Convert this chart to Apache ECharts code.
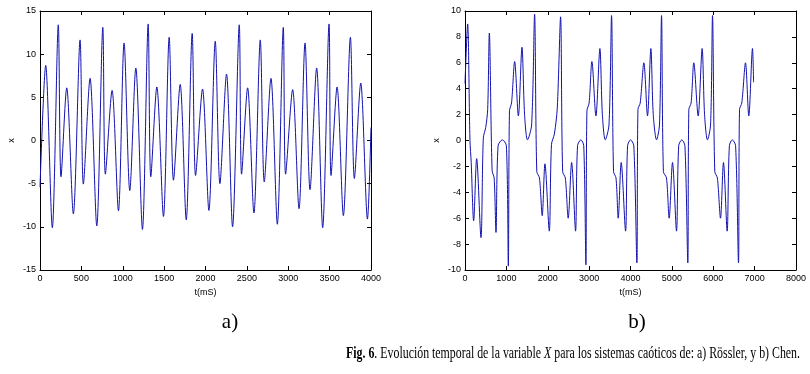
<!DOCTYPE html>
<html><head><meta charset="utf-8">
<script src="https://cdn.jsdelivr.net/npm/echarts@6/dist/echarts.min.js"></script>
<style>html,body{margin:0;padding:0;background:#fff}#c{width:810px;height:374px}</style>
</head><body><div id="c"></div>
<script>
// ---- data ----
const roesslerT = [0,69,149,221,254,323,403,484,524,605,686,759,790,871,948,1016,1085,1158,1238,1307,1339,1412,1492,1561,1613,1694,1767,1839,1880,1964,2041,2118,2174,2254,2327,2408,2436,2509,2585,2662,2710,2791,2868,2940,2968,3053,3130,3203,3263,3343,3416,3493,3517,3590,3666,3751,3799,3876,3957,4000];
const roesslerX = [-5.4,8.7,-10.1,13.4,-4.2,6.1,-8.5,11.65,-5.05,7.2,-9.9,13.1,-3.9,5.8,-8.15,11.3,-5.8,8.4,-10.3,13.5,-4.2,6.2,-8.8,11.96,-4.6,6.5,-9.2,12.4,-4.05,5.96,-8.1,11.5,-5.0,7.7,-10.0,13.4,-3.9,6.1,-8.4,11.65,-4.8,7.2,-9.7,13.1,-3.9,5.9,-7.9,11.3,-5.7,8.4,-10.1,13.5,-4.05,6.2,-8.7,11.96,-4.4,6.65,-9.1,1.5];

const chenT = [0,64,120,150,209,282,386,443,500,548,588,655,705,749,800,903,1000,1047,
  1075,1125,1200,1290,1377,1440,1510,1610,1682,
  1735,1800,1866,1932,2037,2090,2160,2230,2310,
  2360,2425,2494,2577,2672,2720,2800,2870,2922,
  2947,3000,3067,3164,3260,3320,3390,3480,3542,
  3590,3650,3703,3775,3881,3930,4001,4080,4154,
  4180,4235,4323,4411,4492,4550,4630,4700,4750,
  4795,4870,4934,5015,5112,5165,5240,5315,5385,
  5410,5465,5530,5635,5731,5790,5860,5935,5982,
  6037,6100,6175,6247,6336,6390,6460,6540,6610,
  6635,6690,6779,6859,6948,6975];
const chenX = [4.4,9.0,0.0,-1.7,-6.2,-1.4,-7.5,0.2,1.0,2.4,8.3,-2.3,-2.9,-7.1,-0.4,0.05,-0.4,-9.7,
  2.3,2.9,6.1,1.9,7.2,2.0,0.05,1.2,9.75,
  -2.4,-2.9,-5.8,-1.8,-7.0,-0.3,0.5,2.5,9.55,
  -2.4,-2.9,-6.0,-1.7,-7.0,-0.4,0.05,-0.4,-9.6,
  2.3,2.9,6.1,1.9,7.1,2.0,0.05,1.2,9.65,
  -2.4,-2.9,-6.0,-1.7,-7.0,-0.4,0.05,-0.4,-9.45,
  2.4,2.9,6.0,1.9,7.1,2.0,0.05,1.2,9.65,
  -2.4,-2.9,-6.0,-1.7,-7.0,-0.4,0.05,-0.4,-9.45,
  2.4,2.9,6.0,1.9,7.1,2.0,0.05,1.2,9.65,
  -2.4,-2.9,-6.0,-1.7,-7.0,-0.4,0.05,-0.4,-9.45,
  2.4,2.9,6.0,1.9,7.1,4.5];

const axisA = {xMax: 4000, xStep: 500, yMin: -15, yMax: 15, yStep: 5};
const axisB = {xMax: 8000, xStep: 1000, yMin: -10, yMax: 10, yStep: 2};
const yName = 'x';
const xName = 't(mS)';
const panelLabels = ['a)', 'b)'];
const capBold = 'Fig. 6';
const capPart1 = '. Evolución temporal de la variable ';
const capItalic = 'X';
const capPart2 = ' para los sistemas caóticos de: a) Rössler, y b) Chen.';

// ---- chart ----
const sans = '"Liberation Sans", Arial, sans-serif';
const serif = '"Liberation Serif", "Times New Roman", serif';
const lineColor = '#1212b0';
const grids = [
  {left: 40, top: 11, width: 331, height: 259},
  {left: 465, top: 11, width: 331, height: 259}
];
const plain = v => String(v);
function xAxes(g, ax) {
  const base = {type: 'value', gridIndex: g, min: 0, max: ax.xMax, interval: ax.xStep,
    splitLine: {show: false},
    axisLine: {show: true, onZero: false, lineStyle: {color: '#000', width: 1}},
    axisTick: {show: true, inside: true, length: 4, lineStyle: {color: '#000'}}};
  return [
    Object.assign({}, base, {position: 'bottom', name: xName, nameLocation: 'middle', nameGap: 17,
      nameTextStyle: {fontFamily: sans, fontSize: 9, color: '#000'},
      axisLabel: {show: true, margin: 4, fontFamily: sans, fontSize: 9, color: '#000', formatter: plain}}),
    Object.assign({}, base, {position: 'top', axisLabel: {show: false}})
  ];
}
function yAxes(g, ax) {
  const base = {type: 'value', gridIndex: g, min: ax.yMin, max: ax.yMax, interval: ax.yStep,
    splitLine: {show: false},
    axisLine: {show: true, onZero: false, lineStyle: {color: '#000', width: 1}},
    axisTick: {show: true, inside: true, length: 4, lineStyle: {color: '#000'}}};
  return [
    Object.assign({}, base, {position: 'left', name: yName, nameLocation: 'middle', nameGap: 24,
      nameTextStyle: {fontFamily: sans, fontSize: 9, color: '#000'},
      axisLabel: {show: true, margin: 4, fontFamily: sans, fontSize: 9, color: '#000', formatter: plain}}),
    Object.assign({}, base, {position: 'right', axisLabel: {show: false}})
  ];
}
function zip(t, v) { return t.map((x, i) => [x, v[i]]); }

// caption width fit
const capFontSize = 17;
const ctx = document.createElement('canvas').getContext('2d');
function mw(txt, style) { ctx.font = style + ' ' + capFontSize + 'px ' + serif; return ctx.measureText(txt).width; }
const capW = mw(capBold, 'bold') + mw(capPart1, '') + mw(capItalic, 'italic') + mw(capPart2, '');
const capTargetW = 454;
const capScale = capTargetW / capW;

const chart = echarts.init(document.getElementById('c'), null, {renderer: 'canvas'});
chart.setOption({
  animation: false,
  backgroundColor: '#fff',
  grid: grids,
  xAxis: xAxes(0, axisA).concat(xAxes(1, axisB)),
  yAxis: yAxes(0, axisA).concat(yAxes(1, axisB)),
  series: [
    {type: 'line', xAxisIndex: 0, yAxisIndex: 0, data: zip(roesslerT, roesslerX), showSymbol: false,
     smooth: 0.3, lineStyle: {color: lineColor, width: 1}},
    {type: 'line', xAxisIndex: 2, yAxisIndex: 2, data: zip(chenT, chenX), showSymbol: false,
     smooth: 0.3, lineStyle: {color: lineColor, width: 1}}
  ],
  graphic: [
    {type: 'text', x: 230, y: 322, style: {text: panelLabels[0], fontFamily: serif, fontSize: 21, fill: '#000', textAlign: 'center', textVerticalAlign: 'middle'}},
    {type: 'text', x: 637, y: 322, style: {text: panelLabels[1], fontFamily: serif, fontSize: 21, fill: '#000', textAlign: 'center', textVerticalAlign: 'middle'}},
    {type: 'text', x: 346, y: 354, scaleX: capScale,
     style: {text: '{b|' + capBold + '}' + capPart1 + '{i|' + capItalic + '}' + capPart2,
       fontFamily: serif, fontSize: capFontSize, fill: '#000', textAlign: 'left', textVerticalAlign: 'middle',
       rich: {b: {fontFamily: serif, fontSize: capFontSize, fontWeight: 'bold', fill: '#000'},
              i: {fontFamily: serif, fontSize: capFontSize, fontStyle: 'italic', fill: '#000'}}}}
  ]
});
</script></body></html>
